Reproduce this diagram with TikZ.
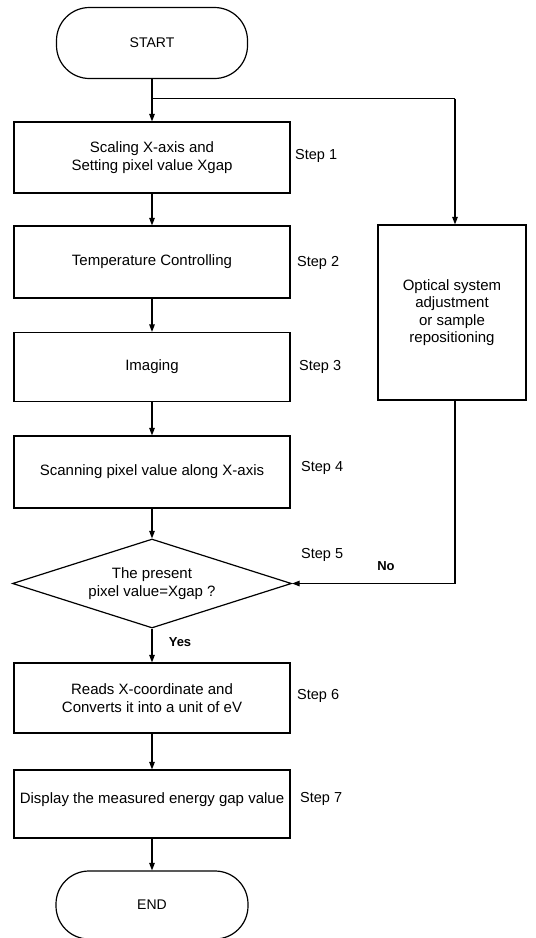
\documentclass[tikz,border=0pt]{standalone}
\usepackage{fontspec}
\setmainfont{Liberation Sans}
\usetikzlibrary{shapes.geometric,arrows.meta}
\begin{document}
\begin{tikzpicture}[x=1pt,y=-1pt,
  every node/.style={font=\fontsize{15}{17.5}\selectfont},
  box/.style={draw,line width=1.2pt,minimum width=276pt,inner sep=0pt,align=center},
  term/.style={draw,line width=1.2pt,rounded corners=33pt,inner sep=0pt,font=\fontsize{14}{16}\selectfont},
  dec/.style={draw,diamond,line width=1.2pt,inner sep=0pt,aspect=3.1,minimum width=279pt,minimum height=89pt,align=center},
  lbl/.style={anchor=west,inner sep=0pt,font=\fontsize{14.5}{17}\selectfont},
  yn/.style={inner sep=0pt,font=\bfseries\fontsize{13}{15}\selectfont},
  flow/.style={line width=1.2pt,-{Triangle[length=7.5pt,width=5.5pt]}},
  seg/.style={line width=1.2pt}]
\useasboundingbox (0,0) rectangle (536,938);
% terminals
\node[term,minimum width=191pt,minimum height=71pt] (start) at (152,43) {START};
\node[term,minimum width=192pt,minimum height=68pt] (end) at (152,905) {END};
% process boxes
\node[box,minimum height=71pt] (s1) at (152,157.5) {Scaling X-axis and\\Setting pixel value Xgap};
\node[box,minimum height=72pt] (s2) at (152,262) {Temperature Controlling};
\node[box,minimum height=69pt] (s3) at (152,367) {Imaging};
\node[box,minimum height=72pt] (s4) at (152,472) {Scanning pixel value along X-axis};
\node[dec] (dec) at (152,583.5) {The present\\pixel value=Xgap ?};
\node[box,minimum height=70pt] (s6) at (152,698) {Reads X-coordinate and\\Converts it into a unit of eV};
\node[box,minimum height=68pt,text height=11pt,text depth=13pt] (s7) at (152,804) {Display the measured energy gap value};
\node[box,minimum width=148pt,minimum height=175pt] (r) at (452,312.5) {Optical system\\adjustment\\or sample\\repositioning};
% step labels
\node[lbl] (l1) at (295,156) {Step 1};
\node[lbl] (l2) at (297,263) {Step 2};
\node[lbl] (l3) at (299,367) {Step 3};
\node[lbl] (l4) at (301,468) {Step 4};
\node[lbl] (l5) at (301,555) {Step 5};
\node[lbl] (l6) at (297,696) {Step 6};
\node[lbl] (l7) at (300,799) {Step 7};
\node[yn] (no) at (386,566) {No};
\node[yn] (yes) at (180,642) {Yes};
% connectors
\coordinate (b) at (152,98.5);
\coordinate (c) at (455,98.5);
\draw[seg] (start.south) -- (b);
\draw[flow] (b) -- (s1.north);
\draw[seg] (b) -- (c);
\draw[flow] (c) -- (c |- r.north);
\draw[flow] (s1) -- (s2);
\draw[flow] (s2) -- (s3);
\draw[flow] (s3) -- (s4);
\draw[flow] (s4) -- (dec.north);
\draw[flow] (dec.south) -- (s6);
\draw[flow] (s6) -- (s7);
\draw[flow] (s7) -- (end);
\draw[flow] (r.south -| c) |- (dec.east);
\end{tikzpicture}
\end{document}
